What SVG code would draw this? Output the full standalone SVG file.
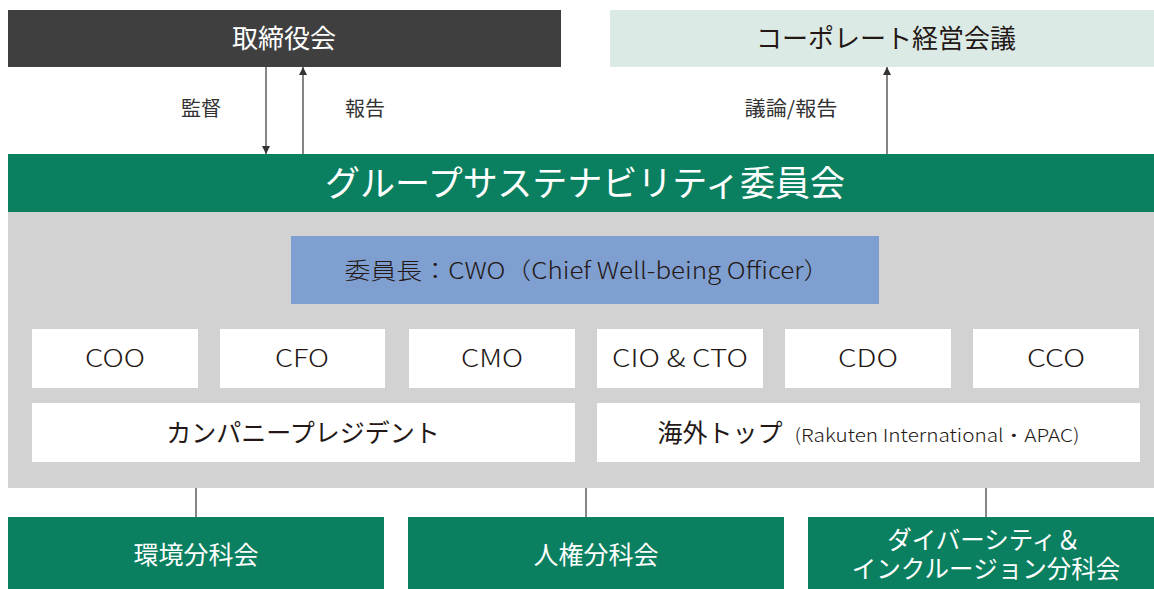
<svg xmlns="http://www.w3.org/2000/svg" width="1154" height="589" viewBox="0 0 1154 589">
<defs>
<style>
text{font-family:"Noto Sans CJK JP","Noto Sans",sans-serif;text-anchor:middle}
.dk{fill:#231815}
.wt{fill:#ffffff}
.wbox{fill:#ffffff}
.g{fill:#0a8060}
.ln{stroke:#333333;stroke-width:1.2;fill:none}
.lbl{font-size:20px;fill:#333333}
.m{font-size:25px}
.t{font-size:26px}
.c{font-size:24px;font-weight:300}
</style>
<marker id="ah" viewBox="0 0 10 10" refX="10" refY="5" markerWidth="8" markerHeight="8" markerUnits="userSpaceOnUse" orient="auto">
<path d="M0,0 L10,5 L0,10 z" fill="#333333"/>
</marker>
</defs>
<rect width="1154" height="589" fill="#ffffff"/>
<g id="board"><rect x="8" y="10" width="553" height="57" fill="#3f3f3f"/><text x="284" y="48" class="wt t">取締役会</text></g>
<g id="corporate"><rect x="610" y="10" width="544" height="57" fill="#dceae6"/><text x="886" y="48" class="dk t">コーポレート経営会議</text></g>
<g id="panel"><rect x="8" y="212" width="1146" height="276" fill="#d2d2d2"/></g>
<g id="committee"><rect x="8" y="154" width="1146" height="58" class="g"/><text x="585" y="196" class="wt" style="font-size:35px">グループサステナビリティ委員会</text></g>
<g id="chair"><rect x="291" y="236" width="588" height="68" fill="#7f9fd1"/><text x="587" y="279" class="dk" style="font-size:23px;font-weight:300" textLength="485" lengthAdjust="spacingAndGlyphs">委員長：CWO（Chief Well-being Officer）</text></g>
<g id="coo"><rect x="32" y="329" width="166" height="59" class="wbox"/><text x="115" y="367" class="dk c" textLength="60" lengthAdjust="spacingAndGlyphs">COO</text></g>
<g id="cfo"><rect x="220" y="329" width="165" height="59" class="wbox"/><text x="302" y="367" class="dk c" textLength="54" lengthAdjust="spacingAndGlyphs">CFO</text></g>
<g id="cmo"><rect x="409" y="329" width="166" height="59" class="wbox"/><text x="492" y="367" class="dk c" textLength="62" lengthAdjust="spacingAndGlyphs">CMO</text></g>
<g id="ciocto"><rect x="597" y="329" width="166" height="59" class="wbox"/><text x="680" y="367" class="dk c" textLength="136" lengthAdjust="spacingAndGlyphs">CIO &amp; CTO</text></g>
<g id="cdo"><rect x="785" y="329" width="166" height="59" class="wbox"/><text x="868" y="367" class="dk c" textLength="60" lengthAdjust="spacingAndGlyphs">CDO</text></g>
<g id="cco"><rect x="973" y="329" width="166" height="59" class="wbox"/><text x="1056" y="367" class="dk c" textLength="58" lengthAdjust="spacingAndGlyphs">CCO</text></g>
<g id="president"><rect x="32" y="403" width="543" height="59" class="wbox"/><text x="303" y="442" class="dk m">カンパニープレジデント</text></g>
<g id="overseas"><rect x="597" y="403" width="543" height="59" class="wbox"/><text x="720" y="442" class="dk m">海外トップ</text><text x="937" y="442" class="dk" style="font-size:18px;font-weight:300" textLength="285" lengthAdjust="spacingAndGlyphs">(Rakuten International・APAC)</text></g>
<g id="env"><rect x="8" y="517" width="376" height="72" class="g"/><text x="196" y="564" class="wt m">環境分科会</text></g>
<g id="hr"><rect x="408" y="517" width="376" height="72" class="g"/><text x="596" y="564" class="wt m">人権分科会</text></g>
<g id="dei"><rect x="808" y="517" width="346" height="72" class="g"/><text x="984" y="549" class="wt" style="font-size:24.5px">ダイバーシティ＆</text><text x="986" y="578" class="wt" style="font-size:24.5px">インクルージョン分科会</text></g>
<g id="connectors">
<line x1="266" y1="67" x2="266" y2="154" class="ln" marker-end="url(#ah)"/>
<line x1="303" y1="154" x2="303" y2="67" class="ln" marker-end="url(#ah)"/>
<line x1="887" y1="154" x2="887" y2="67" class="ln" marker-end="url(#ah)"/>
<line x1="196" y1="488" x2="196" y2="517" class="ln"/>
<line x1="586" y1="488" x2="586" y2="517" class="ln"/>
<line x1="986" y1="488" x2="986" y2="517" class="ln"/>
<text x="201" y="116" class="lbl">監督</text>
<text x="365" y="116" class="lbl">報告</text>
<text x="791" y="116" class="lbl" textLength="93" lengthAdjust="spacingAndGlyphs">議論/報告</text>
</g>
</svg>
